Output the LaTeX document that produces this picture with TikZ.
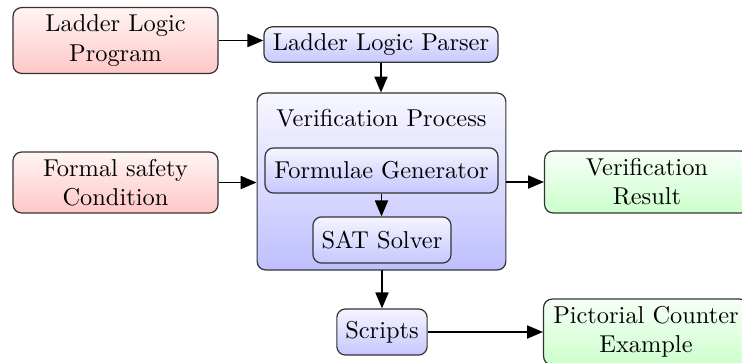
\documentclass[tikz,border=0pt]{standalone}
\usetikzlibrary{arrows.meta}
\begin{document}
\begin{tikzpicture}[x=0.41pt,y=-0.41pt,
  box/.style={draw=black!80, rounded corners=3.5pt, line width=0.5pt, align=center, inner sep=0pt},
  redbox/.style={box, top color=red!4, bottom color=red!22},
  bluebox/.style={box, top color=blue!4, bottom color=blue!22},
  greenbox/.style={box, top color=green!3, bottom color=green!20},
  arr/.style={-{Triangle[length=6.5pt,width=5.4pt]}, line width=0.5pt}]
\useasboundingbox (0,0) rectangle (742,362);

% inputs
\node[redbox, minimum width=84pt, minimum height=27pt] (prog) at (115.5,40.5) {Ladder Logic\\Program};
\node[redbox, minimum width=84pt, minimum height=25pt] (cond) at (115.5,182.5) {Formal safety\\Condition};

% parser
\node[bluebox, minimum width=96pt, minimum height=14.5pt] (parser) at (381,44.5) {Ladder Logic Parser};

% verification process with its inner steps
\node[bluebox, top color=blue!3, bottom color=blue!25, minimum width=102pt, minimum height=72.5pt] (verif) at (381.5,181.5) {};
\node[anchor=base, inner sep=0pt] (verlabel) at (381.5,126.5) {Verification Process};
\node[bluebox, minimum width=95.5pt, minimum height=18.5pt] (gen) at (381.5,170.5) {Formulae Generator};
\node[bluebox, minimum width=56.6pt, minimum height=18.9pt] (sat) at (382,240) {SAT Solver};

% outputs
\node[greenbox, minimum width=84pt, minimum height=25.4pt] (result) at (647,182) {Verification\\Result};
\node[bluebox, minimum width=37pt, minimum height=18.9pt] (scripts) at (382,332) {Scripts};
\node[greenbox, minimum width=84pt, minimum height=27pt] (pict) at (646,332) {Pictorial Counter\\Example};

% connectors
\draw[arr] (prog.east) -- (prog.east -| parser.west);
\draw[arr] (parser.south) -- (parser.south |- verif.north);
\draw[arr] (cond.east) -- (cond.east -| verif.west);
\draw[arr] (verif.east |- result.west) -- (result.west);
\draw[arr] (gen.south) -- (gen.south |- sat.north);
\draw[arr] (verif.south) -- (verif.south -| scripts.north) -- (scripts.north);
\draw[arr] (scripts.east) -- (scripts.east -| pict.west);
\end{tikzpicture}
\end{document}
